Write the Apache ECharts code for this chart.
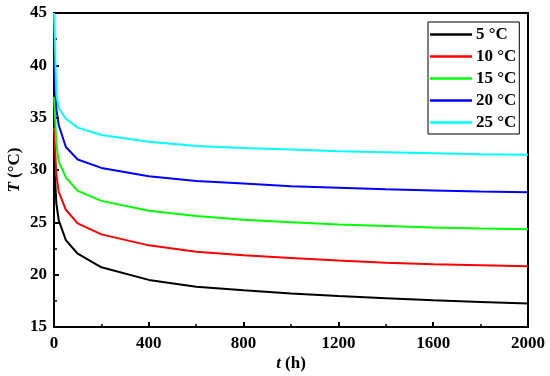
<!DOCTYPE html>
<html>
<head>
<meta charset="utf-8">
<script src="https://cdn.jsdelivr.net/npm/echarts@6/dist/echarts.min.js"></script>
<style>html,body{margin:0;padding:0;background:#fff}#c{width:550px;height:376px}</style>
</head>
<body>
<div id="c"></div>
<script>
const times = [0, 10, 20, 50, 100, 200, 400, 600, 800, 1000, 1200, 1400, 1600, 1800, 2000];
const seriesNames = ['5 °C', '10 °C', '15 °C', '20 °C', '25 °C'];
const colors = ['#000000', '#ff0000', '#00ff00', '#0000ff', '#00ffff'];
const T5  = [31.0, 26.8, 25.2, 23.3, 22.0, 20.7, 19.5, 18.85, 18.5, 18.2, 17.95, 17.75, 17.55, 17.4, 17.25];
const T10 = [34.0, 29.5, 27.9, 26.2, 24.9, 23.85, 22.8, 22.2, 21.85, 21.6, 21.35, 21.15, 21.0, 20.9, 20.8];
const T15 = [37.0, 32.5, 30.8, 29.3, 28.0, 27.05, 26.1, 25.6, 25.25, 25.0, 24.8, 24.65, 24.5, 24.4, 24.34];
const T20 = [40.5, 35.8, 34.3, 32.2, 31.0, 30.2, 29.4, 28.95, 28.7, 28.45, 28.3, 28.15, 28.05, 27.95, 27.87];
const T25 = [45.0, 37.2, 35.9, 34.9, 34.05, 33.35, 32.7, 32.3, 32.1, 31.95, 31.8, 31.7, 31.6, 31.5, 31.45];
const allSeries = [T5, T10, T15, T20, T25];

const font = 'Liberation Serif, Times New Roman, serif';
const chart = echarts.init(document.getElementById('c'), null, {renderer: 'canvas'});
chart.setOption({
  animation: false,
  backgroundColor: '#fff',
  grid: {left: 54, right: 22, top: 13, bottom: 49, containLabel: false, outerBoundsMode: 'none',
    show: true, borderColor: '#000', borderWidth: 2, backgroundColor: 'transparent'},
  legend: {
    orient: 'vertical', left: 428, top: 22,
    padding: [4, 3, 3, 2], itemGap: 5, itemWidth: 42, itemHeight: 2.5,
    icon: 'rect',
    borderColor: '#000', borderWidth: 1,
    textStyle: {fontFamily: font, fontWeight: 'bold', fontSize: 17, color: '#000', padding: [0, 0, 0, -1]},
    data: seriesNames
  },
  xAxis: {
    type: 'value', min: 0, max: 2000, interval: 400,
    name: '{i|t} (h)', nameLocation: 'middle', nameGap: 28, nameMoveOverlap: false,
    nameTextStyle: {fontFamily: font, fontWeight: 'bold', fontSize: 17, color: '#000',
      rich: {i: {fontFamily: font, fontWeight: 'bold', fontStyle: 'italic', fontSize: 17, color: '#000'}}},
    axisLine: {lineStyle: {color: '#000', width: 2}},
    axisTick: {inside: true, length: 5, lineStyle: {color: '#000', width: 2}},
    minorTick: {show: true, splitNumber: 2, length: 3, lineStyle: {color: '#000', width: 1.5}},
    splitLine: {show: false},
    axisLabel: {fontFamily: font, fontWeight: 'bold', fontSize: 17, color: '#000', margin: 8,
      formatter: v => String(v)}
  },
  yAxis: {
    type: 'value', min: 15, max: 45, interval: 5,
    name: '{i|T} (°C)', nameLocation: 'middle', nameGap: 31, nameMoveOverlap: false,
    nameTextStyle: {fontFamily: font, fontWeight: 'bold', fontSize: 17, color: '#000',
      rich: {i: {fontFamily: font, fontWeight: 'bold', fontStyle: 'italic', fontSize: 17, color: '#000'}}},
    axisLine: {lineStyle: {color: '#000', width: 2}},
    axisTick: {inside: true, length: 5, lineStyle: {color: '#000', width: 2}},
    minorTick: {show: true, splitNumber: 2, length: 3, lineStyle: {color: '#000', width: 1.5}},
    splitLine: {show: false},
    axisLabel: {fontFamily: font, fontWeight: 'bold', fontSize: 17, color: '#000', margin: 7,
      formatter: v => String(v)}
  },
  series: allSeries.map((vals, k) => ({
    name: seriesNames[k], type: 'line', symbol: 'none', showSymbol: false,
    color: colors[k],
    lineStyle: {color: colors[k], width: 2},
    data: times.map((t, i) => [t, vals[i]])
  }))
});
</script>
</body>
</html>
